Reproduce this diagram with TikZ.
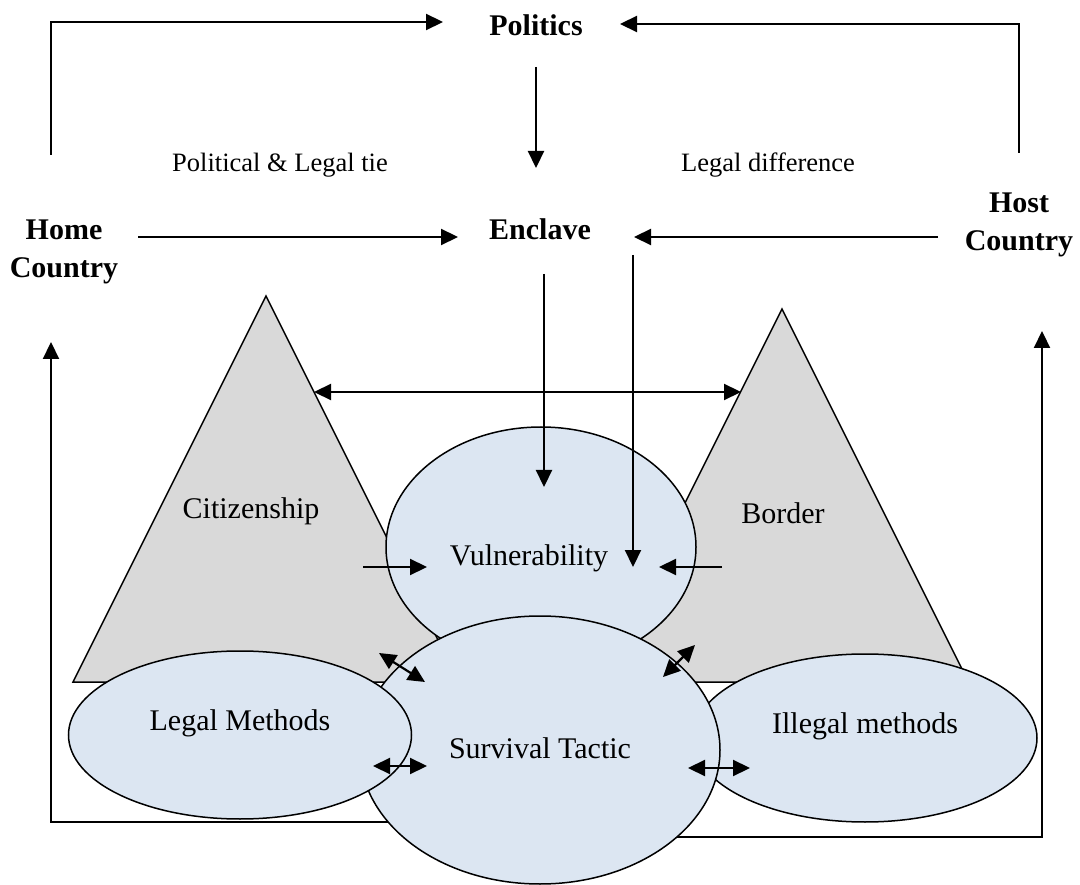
\documentclass[tikz,border=0pt]{standalone}
\usepackage{fontspec}
\setmainfont{Liberation Serif}
\usetikzlibrary{shapes.geometric,arrows.meta,calc}
\definecolor{ovalblue}{RGB}{220,230,242}
\definecolor{conegray}{RGB}{217,217,217}

\begin{document}
\begin{tikzpicture}[x=1pt,y=-1pt,
		key/.style={font=\bfseries\fontsize{30}{38}\selectfont,align=center},
		tie/.style={font=\fontsize{26.5}{32}\selectfont},
		word/.style={font=\fontsize{30}{36}\selectfont},
		oval/.style={ellipse,draw,line width=1.5pt,fill=ovalblue,inner sep=0pt,word},
		cone/.style={draw,line width=1.5pt,fill=conegray},
		link/.style={-{Triangle[length=17pt,width=16pt]},line width=2.2pt},
		both/.style={{Triangle[length=17pt,width=16pt]}-{Triangle[length=17pt,width=16pt]},line width=2.2pt}]
		\useasboundingbox (0,0) rectangle (1080,885);

		\filldraw[cone] (266,296) -- (459,682) -- (73,682) -- cycle;
		\filldraw[cone] (782,309) -- (968.5,682) -- (595.5,682) -- cycle;
		\node[word] (cit) at (251,511) {Citizenship};
		\node[word] (bor) at (783,513) {Border};

		\node[oval,minimum width=310pt,minimum height=240pt,text height=36pt,text depth=0pt] (vul) at (541,547) {Vulnerability\hspace*{24pt}};
		\node[oval,minimum width=344pt,minimum height=168pt,text height=20pt,text depth=30pt] (ill) at (865,738) {Illegal methods};
		\node[oval,minimum width=360pt,minimum height=268pt,text height=20pt,text depth=4pt] (surv) at (540,750) {Survival Tactic};
		\node[oval,minimum width=343pt,minimum height=168pt,text height=20pt,text depth=30pt] (leg) at (240,735) {Legal Methods};

		\node[key] (politics) at (536,25) {Politics};
		\node[key] (enclave) at (540,229) {Enclave};
		\node[key] (home) at (64,252) {Home\\Country};
		\node[key] (host) at (1019,225) {Host\\Country};
		\node[tie] (tieL) at (280,165) {Political \& Legal tie};
		\node[tie] (tieR) at (768,165) {Legal difference};

		\draw[link] ($(home)+(-13,-97)$) |- ($(politics)+(-93,-3)$);
		\draw[link] ($(host)+(0,-72)$) |- ($(politics)+(84,-1)$);
		\draw[link] ($(politics)+(0,42)$) -- ($(enclave)+(-4,-61)$);
		\draw[link] ($(home)+(74,-15)$) -- ($(enclave)+(-82,8)$);
		\draw[link] ($(host)+(-81,12)$) -- ($(enclave)+(94,8)$);
		\draw[link] ($(enclave)+(4,45)$) -- ($(vul)+(3,-60)$);
		\draw[link] ($(enclave)+(93,26)$) -- ($(vul)+(92,20)$);
		\draw[both] ($(cit)+(63,-119)$) -- ($(bor)+(-42,-121)$);
		\draw[link] ($(cit)+(112,56)$) -- ($(vul)+(-114,20)$);
		\draw[link] ($(bor)+(-61,54)$) -- ($(vul)+(118,20)$);
		\draw[link] ($(surv)+(-152,72)$) -| ($(home)+(-13,90)$);
		\draw[link] ($(surv)+(137,87)$) -| ($(host)+(23,106)$);
		\draw[both] ($(cit)+(128,142)$) -- ($(surv)+(-115,-68)$);
		\draw[both] ($(leg)+(133,31)$) -- ($(surv)+(-113,16)$);
		\draw[both] ($(bor)+(-88,132)$) -- ($(surv)+(123,-73)$);
		\draw[both] ($(surv)+(148,18)$) -- ($(ill)+(-115,30)$);
	\end{tikzpicture}
\end{document}
